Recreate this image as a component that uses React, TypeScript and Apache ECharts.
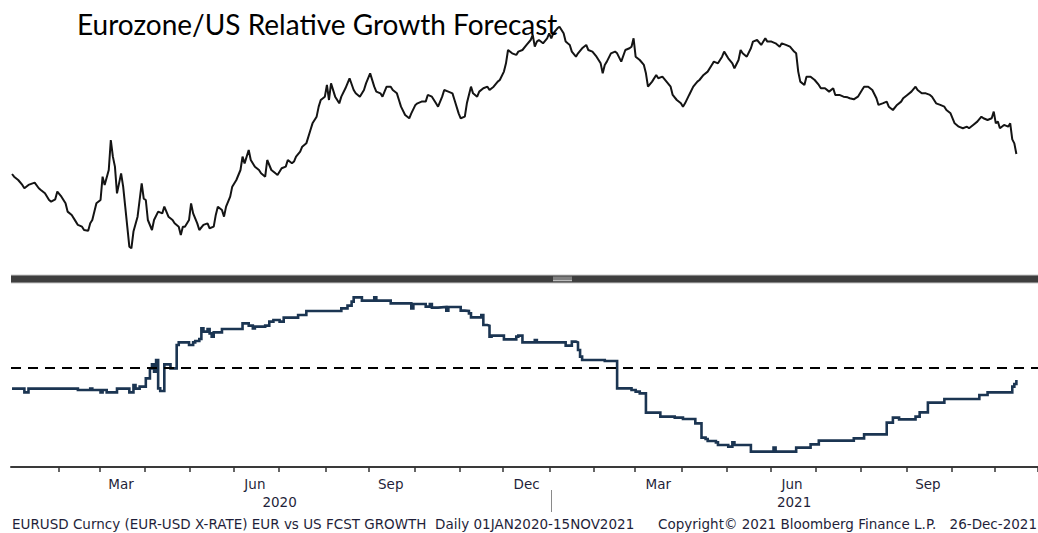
import React, { useEffect, useRef } from "react";
import * as echarts from "echarts";

// Trading-day calendar covered by the x axis (weekdays only)
const START_DATE = "2020-01-01";
const END_DATE = "2021-11-29";

// EURUSD spot, [trading-day index since 01JAN2020, price]
const eurusd: [number, number][] = [
  [0, 1.1195], [1, 1.1175], [3, 1.115], [5, 1.1113], [6, 1.1088], [8, 1.1113], [10, 1.1125], [11, 1.113],
  [13, 1.1088], [14, 1.1075], [16, 1.105], [18, 1.1], [19, 1.0988], [21, 1.1005], [22, 1.1063], [24, 1.1025],
  [26, 1.0975], [27, 1.0913], [29, 1.0888], [31, 1.0838], [32, 1.0813], [34, 1.08], [35, 1.0775], [37, 1.077],
  [38, 1.0825], [39, 1.085], [41, 1.0975], [43, 1.1], [44, 1.1175], [45, 1.1113], [47, 1.1225], [48, 1.145],
  [49, 1.1325], [50, 1.125], [51, 1.105], [53, 1.12], [54, 1.11], [55, 1.095], [56, 1.08], [57, 1.065],
  [58, 1.0638], [59, 1.0763], [61, 1.0875], [62, 1.1], [63, 1.1125], [64, 1.101], [65, 1.1], [66, 1.085],
  [68, 1.0775], [69, 1.085], [71, 1.0913], [73, 1.09], [74, 1.095], [76, 1.0875], [78, 1.085], [79, 1.0825],
  [81, 1.08], [82, 1.0738], [83, 1.08], [84, 1.08], [86, 1.085], [87, 1.0975], [88, 1.09], [90, 1.0825],
  [91, 1.0775], [93, 1.0813], [95, 1.0825], [96, 1.0788], [98, 1.08], [99, 1.0888], [100, 1.095], [102, 1.0925],
  [103, 1.0875], [104, 1.095], [106, 1.1025], [107, 1.11], [109, 1.115], [111, 1.1225], [112, 1.1325], [113, 1.1275],
  [115, 1.1375], [116, 1.13], [118, 1.125], [120, 1.1225], [121, 1.12], [123, 1.1175], [124, 1.13], [126, 1.1225],
  [128, 1.12], [129, 1.1188], [131, 1.1238], [133, 1.125], [134, 1.13], [136, 1.1275], [137, 1.1288], [138, 1.1325],
  [140, 1.1363], [141, 1.14], [143, 1.1425], [145, 1.1525], [146, 1.1575], [148, 1.1625], [149, 1.17], [150, 1.175],
  [152, 1.1775], [153, 1.1863], [154, 1.175], [155, 1.1875], [157, 1.1775], [159, 1.1725], [160, 1.1775], [162, 1.1838],
  [164, 1.1913], [166, 1.1825], [167, 1.18], [169, 1.1775], [171, 1.1825], [172, 1.1875], [174, 1.195], [176, 1.185],
  [177, 1.1813], [179, 1.18], [180, 1.1775], [182, 1.185], [184, 1.185], [185, 1.1825], [187, 1.18], [188, 1.175],
  [189, 1.17], [191, 1.1638], [193, 1.1613], [194, 1.165], [196, 1.1713], [197, 1.1725], [199, 1.1738], [201, 1.1738],
  [202, 1.1788], [204, 1.1775], [206, 1.1725], [207, 1.17], [209, 1.1775], [210, 1.1825], [212, 1.1813], [214, 1.18],
  [215, 1.175], [217, 1.165], [218, 1.1613], [220, 1.1625], [221, 1.1725], [223, 1.185], [224, 1.18], [226, 1.1775],
  [227, 1.1813], [229, 1.1838], [231, 1.185], [232, 1.1825], [234, 1.185], [236, 1.1888], [237, 1.19], [239, 1.1963],
  [240, 1.2025], [241, 1.2125], [243, 1.21], [245, 1.2088], [246, 1.2113], [248, 1.2125], [250, 1.2163], [252, 1.22],
  [253, 1.2238], [254, 1.215], [255, 1.2188], [256, 1.22], [258, 1.2175], [260, 1.2213], [261, 1.225], [262, 1.2213],
  [263, 1.225], [265, 1.2288], [266, 1.23], [267, 1.2275], [268, 1.225], [269, 1.2188], [270, 1.2175], [271, 1.2163],
  [272, 1.2113], [274, 1.2075], [275, 1.21], [277, 1.2138], [279, 1.2163], [280, 1.2125], [282, 1.2113], [284, 1.2075],
  [286, 1.2025], [287, 1.195], [288, 1.2013], [289, 1.2038], [291, 1.21], [293, 1.2113], [294, 1.21], [296, 1.2038],
  [298, 1.2125], [300, 1.2138], [301, 1.215], [302, 1.2213], [303, 1.2075], [305, 1.205], [307, 1.2013], [308, 1.195],
  [309, 1.185], [311, 1.1888], [313, 1.1938], [314, 1.1913], [316, 1.1925], [318, 1.1888], [320, 1.185], [321, 1.1788],
  [323, 1.175], [325, 1.1725], [326, 1.17], [327, 1.1725], [329, 1.1788], [331, 1.185], [333, 1.1888], [334, 1.19],
  [336, 1.1938], [338, 1.1963], [340, 1.2013], [341, 1.2038], [343, 1.2025], [345, 1.2075], [346, 1.2113], [348, 1.2063],
  [350, 1.2025], [351, 1.1988], [353, 1.205], [354, 1.2125], [355, 1.21], [357, 1.2075], [359, 1.2138], [360, 1.2188],
  [362, 1.22], [364, 1.2163], [366, 1.2213], [367, 1.2188], [369, 1.2188], [371, 1.2175], [373, 1.215], [374, 1.2175],
  [376, 1.2163], [378, 1.215], [380, 1.2113], [381, 1.21], [382, 1.1963], [383, 1.1888], [385, 1.1863], [386, 1.1925],
  [388, 1.1925], [390, 1.19], [392, 1.1863], [393, 1.1838], [395, 1.1838], [397, 1.1813], [399, 1.1838], [400, 1.1788],
  [402, 1.1788], [404, 1.1775], [406, 1.177], [407, 1.1763], [409, 1.1755], [411, 1.1775], [413, 1.1825], [414, 1.185],
  [416, 1.185], [418, 1.1825], [420, 1.1763], [421, 1.1713], [423, 1.1725], [425, 1.1738], [426, 1.17], [428, 1.1675],
  [430, 1.1713], [432, 1.1738], [433, 1.1763], [435, 1.1788], [437, 1.1813], [439, 1.185], [440, 1.1825], [442, 1.18],
  [444, 1.18], [446, 1.1788], [447, 1.1775], [449, 1.1725], [451, 1.1713], [453, 1.17], [454, 1.1675], [456, 1.165],
  [458, 1.1575], [459, 1.1563], [460, 1.155], [462, 1.1538], [464, 1.155], [465, 1.1538], [467, 1.1563], [469, 1.1588],
  [471, 1.1625], [472, 1.1613], [474, 1.16], [476, 1.1613], [477, 1.1663], [478, 1.1575], [479, 1.1588], [480, 1.1538],
  [482, 1.1563], [484, 1.155], [485, 1.1575], [486, 1.1455], [487, 1.1425], [488, 1.1345],
];

// EUR vs US forecast growth differential, [trading-day index, value] at each change
const growthDiff: [number, number][] = [
  [0, -0.63], [6, -0.74], [8, -0.63], [32, -0.67], [38, -0.63], [39, -0.67], [43, -0.74], [44, -0.67],
  [46, -0.74], [51, -0.63], [57, -0.74], [59, -0.52], [60, -0.63], [62, -0.57], [65, -0.32], [67, -0.02],
  [68, 0.1], [69, -0.12], [70, 0.23], [71, -0.62], [72, -0.7], [74, 0.1], [77, -0.02], [80, 0.68],
  [81, 0.76], [86, 0.68], [88, 0.76], [89, 0.8], [91, 0.86], [92, 1.18], [93, 1.08], [95, 1.16],
  [96, 1.03], [97, 0.93], [98, 1.06], [102, 1.16], [112, 1.33], [115, 1.26], [117, 1.18], [118, 1.23],
  [123, 1.26], [125, 1.38], [127, 1.43], [130, 1.38], [132, 1.5], [139, 1.58], [143, 1.7], [160, 1.78],
  [163, 1.86], [165, 1.98], [166, 2.11], [170, 2.01], [176, 2.11], [177, 2.01], [184, 1.93], [194, 1.78],
  [195, 1.91], [201, 1.83], [203, 1.91], [204, 1.8], [207, 1.82], [211, 1.71], [212, 1.82], [218, 1.71],
  [220, 1.7], [222, 1.63], [223, 1.51], [228, 1.58], [229, 1.28], [231, 1.26], [232, 0.93], [233, 0.96],
  [239, 0.85], [245, 0.93], [246, 0.96], [248, 0.76], [254, 0.83], [255, 0.76], [269, 0.66], [272, 0.78],
  [274, 0.76], [275, 0.53], [276, 0.33], [277, 0.23], [288, 0.2], [294, -0.62], [301, -0.67], [303, -0.72],
  [305, -0.77], [308, -1.35], [315, -1.47], [322, -1.5], [326, -1.54], [332, -1.67], [335, -2.1], [337, -2.14],
  [338, -2.2], [342, -2.24], [343, -2.32], [348, -2.37], [350, -2.24], [351, -2.32], [359, -2.52], [370, -2.4],
  [371, -2.52], [381, -2.4], [388, -2.3], [392, -2.19], [409, -2.12], [414, -2.0], [425, -1.65], [428, -1.5],
  [431, -1.55], [439, -1.47], [441, -1.34], [445, -1.05], [453, -0.94], [470, -0.82], [474, -0.74], [486, -0.57],
  [487, -0.49], [488, -0.37],
];

const referenceLevel = 0;
const monthNames = ["Jan", "Feb", "Mar", "Apr", "May", "Jun", "Jul", "Aug", "Sep", "Oct", "Nov", "Dec"];
const labelledMonths = [2, 5, 8, 11];

const titleText = "Eurozone/US Relative Growth Forecast";
const footerLeft = "EURUSD Curncy (EUR-USD X-RATE) EUR vs US FCST GROWTH  Daily 01JAN2020-15NOV2021";
const footerMid = "Copyright\u00A9 2021 Bloomberg Finance L.P.";
const footerRight = "26-Dec-2021";

function weekdays(start: string, end: string): string[] {
  const out: string[] = [];
  const d = new Date(start + "T00:00:00Z");
  const e = new Date(end + "T00:00:00Z");
  while (d.getTime() <= e.getTime()) {
    const wd = d.getUTCDay();
    if (wd !== 0 && wd !== 6) out.push(d.toISOString().slice(0, 10));
    d.setUTCDate(d.getUTCDate() + 1);
  }
  return out;
}

export default function App() {
  const ref = useRef<HTMLDivElement>(null);

  useEffect(() => {
    if (!ref.current) return;
    const chart = echarts.init(ref.current, undefined, { renderer: "svg" });

    const days = weekdays(START_DATE, END_DATE);
    const ym = (s: string) => s.slice(0, 7);
    const monthTicks = new Set<number>();
    const yearTicks = new Set<number>();
    const monthRanges: Record<string, [number, number]> = {};
    const yearRanges: Record<string, [number, number]> = {};
    days.forEach((d, i) => {
      if (i > 0 && ym(d) !== ym(days[i - 1])) monthTicks.add(i);
      if (i > 0 && d.slice(0, 4) !== days[i - 1].slice(0, 4)) yearTicks.add(i);
      const m = ym(d);
      if (!monthRanges[m]) monthRanges[m] = [i, i];
      else monthRanges[m][1] = i;
      const y = d.slice(0, 4);
      if (!yearRanges[y]) yearRanges[y] = [i, i];
      else yearRanges[y][1] = i;
    });
    const monthLabels = new Set<number>();
    Object.keys(monthRanges).forEach((m) => {
      const mi = parseInt(m.slice(5, 7), 10) - 1;
      if (labelledMonths.includes(mi)) {
        const [a, b] = monthRanges[m];
        monthLabels.add(Math.floor((a + b) / 2));
      }
    });
    const yearLabels = new Set<number>();
    Object.keys(yearRanges).forEach((y) => {
      const [a, b] = yearRanges[y];
      yearLabels.add(Math.floor((a + b) / 2));
    });

    const font = "DejaVu Sans";
    const textColor = "#1f1f3a";

    chart.setOption({
      animation: false,
      grid: [
        { left: 11, right: 0, top: 10, height: 260 },
        { left: 11, right: 0, top: 290, height: 177 },
      ],
      xAxis: [
        { type: "category", gridIndex: 0, data: days, show: false, boundaryGap: true },
        {
          type: "category",
          gridIndex: 1,
          data: days,
          boundaryGap: true,
          axisLine: { show: true, onZero: false, lineStyle: { color: "#3a3a3a", width: 2 } },
          axisTick: {
            show: true,
            length: 5,
            interval: (i: number) => monthTicks.has(i),
            lineStyle: { color: "#333", width: 1.5 },
          },
          axisLabel: {
            show: true,
            interval: (i: number) => monthLabels.has(i),
            formatter: (v: string) => monthNames[parseInt(v.slice(5, 7), 10) - 1],
            color: textColor,
            fontFamily: font,
            fontSize: 13.5,
            margin: 10,
          },
          splitLine: { show: false },
        },
        {
          type: "category",
          gridIndex: 1,
          data: days,
          boundaryGap: true,
          position: "bottom",
          offset: 23,
          axisLine: { show: false, onZero: false },
          axisTick: {
            show: true,
            length: 22,
            alignWithLabel: true,
            interval: (i: number) => yearTicks.has(i),
            lineStyle: { color: "#8a8a8a", width: 1 },
          },
          axisLabel: {
            show: true,
            interval: (i: number) => yearLabels.has(i),
            formatter: (v: string) => v.slice(0, 4),
            color: textColor,
            fontFamily: font,
            fontSize: 13.5,
            margin: 5,
          },
          splitLine: { show: false },
        },
      ],
      yAxis: [
        { type: "value", gridIndex: 0, min: 1.0475, max: 1.2425, show: false, splitLine: { show: false } },
        { type: "value", gridIndex: 1, min: -2.98, max: 2.33, show: false, splitLine: { show: false } },
      ],
      series: [
        {
          type: "line",
          xAxisIndex: 0,
          yAxisIndex: 0,
          data: eurusd,
          showSymbol: false,
          symbol: "none",
          lineStyle: { color: "#141414", width: 2 },
          z: 2,
        },
        {
          type: "line",
          xAxisIndex: 1,
          yAxisIndex: 1,
          data: growthDiff,
          step: "end",
          showSymbol: false,
          symbol: "none",
          lineStyle: { color: "#1b3552", width: 2.6, join: "miter" },
          markLine: {
            silent: true,
            symbol: "none",
            label: { show: false },
            lineStyle: { color: "#000", width: 2, type: [10, 7] },
            data: [{ yAxis: referenceLevel }],
          },
          z: 3,
        },
      ],
      graphic: [
        { type: "rect", shape: { x: 11, y: 275, width: 1027, height: 8 }, style: { fill: "#3e3e3e" }, silent: true },
        { type: "line", shape: { x1: 11, y1: 275, x2: 1038, y2: 275 }, style: { stroke: "#c8c8c8", lineWidth: 1 }, silent: true },
        { type: "line", shape: { x1: 11, y1: 283, x2: 1038, y2: 283 }, style: { stroke: "#c8c8c8", lineWidth: 1 }, silent: true },
        { type: "rect", shape: { x: 553, y: 276.5, width: 19, height: 5 }, style: { fill: "#808080" }, silent: true },
        { type: "line", shape: { x1: 553, y1: 280.5, x2: 572, y2: 280.5 }, style: { stroke: "#bdbdbd", lineWidth: 1 }, silent: true },
        {
          type: "text",
          x: 77,
          y: 10,
          style: { text: titleText, fill: "#000", font: "28px Lato", textVerticalAlign: "top" },
          z: 10,
        },
        {
          type: "text",
          x: 12,
          y: 517,
          style: { text: footerLeft, fill: textColor, font: `13.5px '${font}'`, textVerticalAlign: "top" },
        },
        {
          type: "text",
          x: 658,
          y: 517,
          style: { text: footerMid, fill: textColor, font: `13.5px '${font}'`, textVerticalAlign: "top" },
        },
        {
          type: "text",
          x: 1037,
          y: 517,
          style: { text: footerRight, fill: textColor, font: `13.5px '${font}'`, textVerticalAlign: "top", textAlign: "right" },
        },
      ],
    });

    return () => chart.dispose();
  }, []);

  return (
    <div
      ref={ref}
      style={{ position: "absolute", left: 0, top: 0, width: 1038, height: 533, background: "#fff" }}
    />
  );
}
